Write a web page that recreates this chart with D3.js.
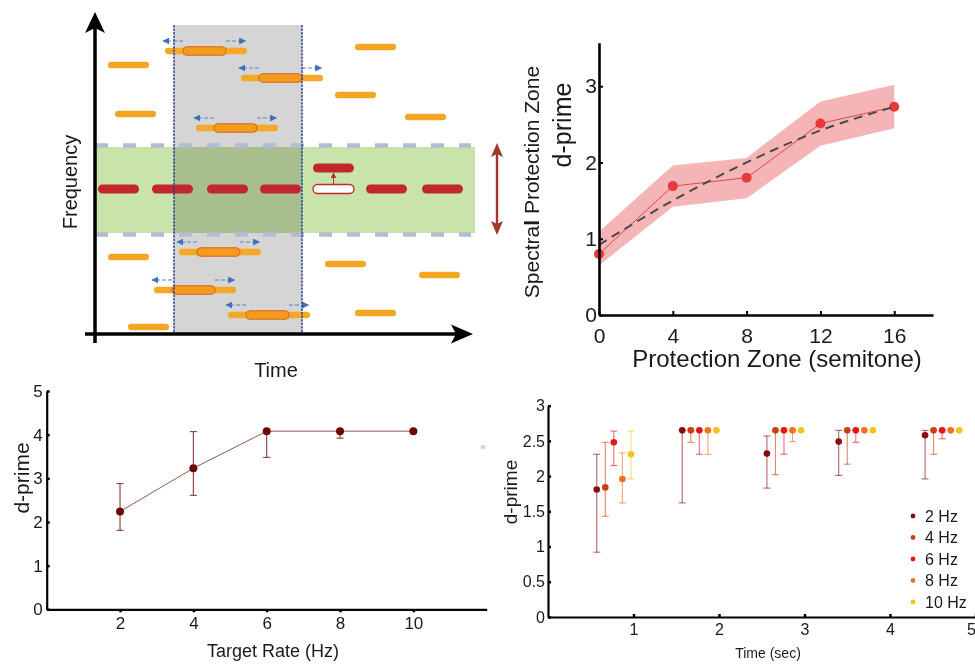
<!DOCTYPE html>
<html><head><meta charset="utf-8">
<script src="https://cdn.jsdelivr.net/npm/d3@7"></script>
<style>
body{margin:0;background:#fff}
svg{display:block}
text{font-family:"Liberation Sans",Arial,Helvetica,sans-serif;fill:#1a1a1a}
</style>
</head><body>
<svg id="c" width="975" height="664"></svg>
<script>
// ---------------- Panel A: schematic (time units / frequency units) ----------------
const distractorOnsets = [1.3, 2.0, 26.0, 24.0, 31.0, 1.3, 3.3, 23.0, 32.4, 26.0];
const distractorFreqs  = [26.9, 22.0, 28.7, 23.9, 21.7, 7.7, 0.7, 7.0, 5.9, 2.1];
const movingOnsets = [8.8, 16.4, 11.9, 10.2, 7.7, 15.1];
const movingFreqs  = [28.3, 25.6, 20.6, 8.2, 4.4, 1.9];
const targetOnsets = [0.3, 5.7, 11.2, 16.5, 21.8, 27.1, 32.7];
const targetFreq = 14.5, deviantFreq = 16.6, deviantIndex = 4;
const toneDur = 4.1, movingDur = 4.3, jitterBefore = 1.8, jitterAfter = 2.1;
const windowTimes = [7.9, 20.7], windowTop = 30.9;
const zoneFreqs = [10.1, 18.7], zoneEdgeFreqs = [9.95, 18.85];
const zoneArrowT = 40.2, zoneArrowFreqs = [9.9, 19.1];

// ---------------- Panel B: protection zone ----------------
const protZones = [0, 4, 8, 12, 16];
const dprimeB   = [0.80, 1.69, 1.80, 2.51, 2.73];
const bandUpper = [1.09, 1.96, 2.06, 2.80, 3.02];
const bandLower = [0.65, 1.42, 1.53, 2.22, 2.45];
const fitB      = [0.92, 1.50, 2.00, 2.42, 2.73];
const xTicksB = [0, 4, 8, 12, 16], yTicksB = [0, 1, 2, 3];

// ---------------- Panel C: target rate ----------------
const rateHz  = [2, 4, 6, 8, 10];
const dprimeC = [2.24, 3.23, 4.08, 4.08, 4.08];
const upperC  = [2.88, 4.07, 4.08, 4.08, 4.08];
const lowerC  = [1.81, 2.61, 3.48, 3.92, 4.08];
const xTicksC = [2, 4, 6, 8, 10], yTicksC = [0, 1, 2, 3, 4, 5];

// ---------------- Panel D: time course per rate ----------------
const rateLabels = ["2 Hz", "4 Hz", "6 Hz", "8 Hz", "10 Hz"];
const rateColors = ["#8b0a0a", "#c8400f", "#ea1414", "#f5701e", "#f7c21c"];
const groupTimes = [0.57, 1.57, 2.56, 3.40, 4.41];
const rateDodge = 0.1;
const dprimeD = [
  [1.81, 2.65, 2.32, 2.49, 2.58],
  [1.84, 2.65, 2.65, 2.65, 2.65],
  [2.48, 2.65, 2.65, 2.65, 2.65],
  [1.96, 2.65, 2.65, 2.65, 2.65],
  [2.31, 2.65, 2.65, 2.65, 2.65]];
const upperD = [
  [2.31, 2.65, 2.57, 2.65, 2.65],
  [2.48, 2.65, 2.65, 2.65, 2.65],
  [2.64, 2.65, 2.65, 2.65, 2.65],
  [2.33, 2.65, 2.65, 2.65, 2.65],
  [2.64, 2.65, 2.65, 2.65, 2.65]];
const lowerD = [
  [0.92, 1.62, 1.83, 2.01, 1.96],
  [1.43, 2.48, 2.02, 2.17, 2.31],
  [2.15, 2.31, 2.31, 2.48, 2.53],
  [1.62, 2.31, 2.49, 2.65, 2.65],
  [1.96, 2.65, 2.65, 2.65, 2.65]];
const xTicksD = [1, 2, 3, 4, 5], yTicksD = [0, 0.5, 1, 1.5, 2, 2.5, 3];

const svg = d3.select("#c");
svg.append("rect").attr("width", 975).attr("height", 664).attr("fill", "#fff");
const defs = svg.append("defs");
function marker(id, color, size) {
  defs.append("marker").attr("id", id).attr("viewBox", "0 0 10 10").attr("refX", 9).attr("refY", 5)
    .attr("markerWidth", size).attr("markerHeight", size).attr("markerUnits", "userSpaceOnUse")
    .attr("orient", "auto").append("path").attr("d", "M0,0 L10,5 L0,10 Z").attr("fill", color);
}
marker("ahBlue", "#3f6fbf", 7);
marker("ahRed", "#a8352c", 6);

// ===== Panel A =====
const xA = d3.scaleLinear().domain([0, 38]).range([95, 475]);
const yA = d3.scaleLinear().domain([0, 32.2]).range([334, 12]);
const gA = svg.append("g");
gA.append("rect").attr("x", xA(0)).attr("y", yA(zoneFreqs[1]))
  .attr("width", xA(38) - xA(0)).attr("height", yA(zoneFreqs[0]) - yA(zoneFreqs[1])).attr("fill", "#c9e4ab");
gA.append("rect").attr("x", xA(windowTimes[0])).attr("y", yA(windowTop))
  .attr("width", xA(windowTimes[1]) - xA(windowTimes[0])).attr("height", yA(0) - yA(windowTop))
  .attr("fill", "#d5d5d5").style("mix-blend-mode", "multiply");
gA.selectAll("line.zoneEdge").data(zoneEdgeFreqs).join("line").attr("class", "zoneEdge")
  .attr("x1", xA(0)).attr("x2", xA(37.6)).attr("y1", d => yA(d)).attr("y2", d => yA(d))
  .attr("stroke", "#b3bdd1").attr("stroke-width", 4.5).attr("stroke-dasharray", "13,15");

// target stream
gA.selectAll("rect.target").data(targetOnsets).join("rect").attr("class", "target")
  .attr("x", d => xA(d)).attr("width", xA(toneDur) - xA(0))
  .attr("y", yA(targetFreq) - 4.5).attr("height", 9).attr("rx", 4.5)
  .attr("fill", (d, i) => i === deviantIndex ? "#fff" : "#c1272d")
  .attr("stroke", (d, i) => i === deviantIndex ? "#c1272d" : "none").attr("stroke-width", 1.3);
const devT = targetOnsets[deviantIndex];
gA.append("rect").attr("x", xA(devT)).attr("width", xA(toneDur) - xA(0))
  .attr("y", yA(deviantFreq) - 4.5).attr("height", 9).attr("rx", 4.5).attr("fill", "#c1272d");
gA.append("line").attr("x1", xA(devT + toneDur / 2)).attr("x2", xA(devT + toneDur / 2))
  .attr("y1", yA(targetFreq) - 5).attr("y2", yA(deviantFreq) + 5)
  .attr("stroke", "#a8352c").attr("stroke-width", 1).attr("marker-end", "url(#ahRed)");

// distractors
gA.selectAll("rect.dist").data(distractorOnsets).join("rect").attr("class", "dist")
  .attr("x", d => xA(d)).attr("width", xA(toneDur) - xA(0))
  .attr("y", (d, i) => yA(distractorFreqs[i]) - 3.3).attr("height", 6.6).attr("rx", 3.3).attr("fill", "#f4a623");

// moving distractors (jittered)
movingOnsets.forEach((c, i) => {
  const f = movingFreqs[i];
  gA.append("rect").attr("x", xA(c - jitterBefore)).attr("width", xA(movingDur + jitterBefore + jitterAfter) - xA(0))
    .attr("y", yA(f) - 3.3).attr("height", 6.6).attr("rx", 3.3).attr("fill", "#f5a726");
  gA.append("rect").attr("x", xA(c)).attr("width", xA(movingDur) - xA(0))
    .attr("y", yA(f) - 4.3).attr("height", 8.6).attr("rx", 4.3).attr("fill", "#f49b1e")
    .attr("stroke", "#d9661c").attr("stroke-width", 1.1);
  gA.append("line").attr("x1", xA(c)).attr("x2", xA(c - 2.0)).attr("y1", yA(f + 1.0)).attr("y2", yA(f + 1.0))
    .attr("stroke", "#5a83c6").attr("stroke-width", 1.2).attr("stroke-dasharray", "4,2").attr("marker-end", "url(#ahBlue)");
  gA.append("line").attr("x1", xA(c + movingDur)).attr("x2", xA(c + movingDur + 1.95)).attr("y1", yA(f + 1.0)).attr("y2", yA(f + 1.0))
    .attr("stroke", "#5a83c6").attr("stroke-width", 1.2).attr("stroke-dasharray", "4,2").attr("marker-end", "url(#ahBlue)");
});

// window edges
gA.selectAll("line.win").data(windowTimes).join("line").attr("class", "win")
  .attr("x1", d => xA(d)).attr("x2", d => xA(d)).attr("y1", yA(windowTop)).attr("y2", yA(0))
  .attr("stroke", "#21399a").attr("stroke-width", 1.4).attr("stroke-dasharray", "2.5,1");

// axes arrows
const ax0 = xA(0), ay0 = yA(0);
gA.append("line").attr("x1", ax0).attr("x2", ax0).attr("y1", yA(-0.9)).attr("y2", yA(31)).attr("stroke", "#000").attr("stroke-width", 3.5);
gA.append("line").attr("x1", xA(-1)).attr("x2", xA(37)).attr("y1", ay0).attr("y2", ay0).attr("stroke", "#000").attr("stroke-width", 3.5);
const tipY = yA(32.2);
gA.append("path").attr("d", `M${ax0},${tipY} L${ax0 + 10},${tipY + 21} L${ax0},${tipY + 16} L${ax0 - 10},${tipY + 21} Z`).attr("fill", "#000");
const tipX = xA(37.8);
gA.append("path").attr("d", `M${tipX},${ay0} L${tipX - 22},${ay0 - 9.5} L${tipX - 17},${ay0} L${tipX - 22},${ay0 + 9.5} Z`).attr("fill", "#000");

// protection zone double arrow
const zx = xA(zoneArrowT), zy1 = yA(zoneArrowFreqs[1]), zy0 = yA(zoneArrowFreqs[0]);
gA.append("line").attr("x1", zx).attr("x2", zx).attr("y1", zy1 + 8).attr("y2", zy0 - 8).attr("stroke", "#a4372b").attr("stroke-width", 2.4);
gA.append("path").attr("d", `M${zx},${zy1} L${zx + 6},${zy1 + 14} L${zx},${zy1 + 11} L${zx - 6},${zy1 + 14} Z`).attr("fill", "#a4372b");
gA.append("path").attr("d", `M${zx},${zy0} L${zx + 6},${zy0 - 14} L${zx},${zy0 - 11} L${zx - 6},${zy0 - 14} Z`).attr("fill", "#a4372b");

gA.append("text").attr("transform", "translate(77,182) rotate(-90)").attr("text-anchor", "middle")
  .style("font-size", "20px").text("Frequency");
gA.append("text").attr("x", 276).attr("y", 377).attr("text-anchor", "middle").style("font-size", "20px").text("Time");

// ===== Panel B =====
const xB = d3.scaleLinear().domain([0, 18.1]).range([599, 933]);
const yB = d3.scaleLinear().domain([0, 3.57]).range([315, 42.7]);
const gB = svg.append("g");
const ptsB = protZones.map((z, i) => ({ z, v: dprimeB[i], lo: bandLower[i], hi: bandUpper[i], fit: fitB[i] }));
gB.append("path").datum(ptsB).attr("d", d3.area().x(d => xB(d.z)).y0(d => yB(d.lo)).y1(d => yB(d.hi)))
  .attr("fill", "#f3a2a5").attr("fill-opacity", 0.8);
gB.append("path").datum(ptsB).attr("d", d3.line().x(d => xB(d.z)).y(d => yB(d.v)))
  .attr("fill", "none").attr("stroke", "#e0474b").attr("stroke-width", 1);
gB.selectAll("circle").data(ptsB).join("circle").attr("cx", d => xB(d.z)).attr("cy", d => yB(d.v)).attr("r", 5).attr("fill", "#e5393d");
gB.append("path").datum(ptsB).attr("d", d3.line().curve(d3.curveMonotoneX).x(d => xB(d.z)).y(d => yB(d.fit)))
  .attr("fill", "none").attr("stroke", "#4a4a4a").attr("stroke-width", 2).attr("stroke-dasharray", "9,6");
const axBx = gB.append("g").attr("transform", `translate(0,${yB(0)})`)
  .call(d3.axisBottom(xB).tickValues(xTicksB).tickSizeInner(-4).tickSizeOuter(0).tickPadding(13).tickFormat(d3.format("d")));
const axBy = gB.append("g").attr("transform", `translate(${xB(0)},0)`)
  .call(d3.axisLeft(yB).tickValues(yTicksB).tickSizeInner(-4).tickSizeOuter(0).tickPadding(2).tickFormat(d3.format("d")));
[axBx, axBy].forEach(a => {
  a.select(".domain").attr("stroke", "#000").attr("stroke-width", 2.6);
  a.selectAll(".tick line").attr("stroke", "#000").attr("stroke-width", 2);
  a.selectAll(".tick text").style("font-size", "21px").attr("fill", "#1a1a1a");
});
gB.append("text").attr("transform", "translate(571,125) rotate(-90)").attr("text-anchor", "middle")
  .style("font-size", "25px").text("d-prime");
const sp = gB.append("text").attr("transform", "translate(539,182) rotate(-90)").attr("text-anchor", "middle").style("font-size", "21px");
sp.append("tspan").text("Spectra");
sp.append("tspan").style("font-weight", "bold").text("l");
sp.append("tspan").text(" Protection Zone");
gB.append("text").attr("x", 777).attr("y", 367).attr("text-anchor", "middle").style("font-size", "24px").text("Protection Zone (semitone)");

// ===== Panel C =====
const xC = d3.scaleLinear().domain([0, 12]).range([46.7, 486.7]);
const yC = d3.scaleLinear().domain([0, 5]).range([609.3, 391]);
const gC = svg.append("g");
const ptsC = rateHz.map((r, i) => ({ r, v: dprimeC[i], hi: upperC[i], lo: lowerC[i] }));
gC.append("path").datum(ptsC).attr("d", d3.line().x(d => xC(d.r)).y(d => yC(d.v)))
  .attr("fill", "none").attr("stroke", "#9c5555").attr("stroke-width", 1);
const ebC = gC.selectAll("g.eb").data(ptsC.filter(d => d.hi > d.lo)).join("g").attr("class", "eb")
  .attr("stroke", "#8e3b3b").attr("stroke-width", 1.1);
ebC.append("line").attr("x1", d => xC(d.r)).attr("x2", d => xC(d.r)).attr("y1", d => yC(d.hi)).attr("y2", d => yC(d.lo));
ebC.append("line").attr("x1", d => xC(d.r) - 3.5).attr("x2", d => xC(d.r) + 3.5).attr("y1", d => yC(d.hi)).attr("y2", d => yC(d.hi));
ebC.append("line").attr("x1", d => xC(d.r) - 3.5).attr("x2", d => xC(d.r) + 3.5).attr("y1", d => yC(d.lo)).attr("y2", d => yC(d.lo));
gC.selectAll("circle").data(ptsC).join("circle").attr("cx", d => xC(d.r)).attr("cy", d => yC(d.v)).attr("r", 4).attr("fill", "#6e0808");
const axCx = gC.append("g").attr("transform", `translate(0,${yC(0)})`)
  .call(d3.axisBottom(xC).tickValues(xTicksC).tickSizeInner(3).tickSizeOuter(0).tickPadding(5).tickFormat(d3.format("d")));
const axCy = gC.append("g").attr("transform", `translate(${xC(0)},0)`)
  .call(d3.axisLeft(yC).tickValues(yTicksC).tickSizeInner(-3).tickSizeOuter(0).tickPadding(4).tickFormat(d3.format("d")));
[axCx, axCy].forEach(a => {
  a.select(".domain").attr("stroke", "#000").attr("stroke-width", 2.2);
  a.selectAll(".tick line").attr("stroke", "#000").attr("stroke-width", 2.5);
  a.selectAll(".tick text").style("font-size", "17px").attr("fill", "#1a1a1a");
});
gC.append("text").attr("transform", "translate(29,478) rotate(-90)").attr("text-anchor", "middle")
  .style("font-size", "21px").text("d-prime");
gC.append("text").attr("x", 273).attr("y", 657).attr("text-anchor", "middle").style("font-size", "18px").text("Target Rate (Hz)");
gC.append("circle").attr("cx", 483).attr("cy", 447).attr("r", 2.5).attr("fill", "#d8d8d8");

// ===== Panel D =====
const xD = d3.scaleLinear().domain([0, 5]).range([548, 975.5]);
const yD = d3.scaleLinear().domain([0, 3]).range([617, 405.7]);
const gD = svg.append("g");
rateLabels.forEach((lab, k) => {
  const pts = groupTimes.map((t, j) => ({ t: t + k * rateDodge, v: dprimeD[k][j], hi: upperD[k][j], lo: lowerD[k][j] }));
  const eb = gD.append("g").attr("stroke", rateColors[k]).attr("stroke-opacity", 0.62).attr("stroke-width", 1.1);
  pts.filter(d => d.hi > d.lo).forEach(d => {
    eb.append("line").attr("x1", xD(d.t)).attr("x2", xD(d.t)).attr("y1", yD(d.hi)).attr("y2", yD(d.lo));
    eb.append("line").attr("x1", xD(d.t) - 3.5).attr("x2", xD(d.t) + 3.5).attr("y1", yD(d.hi)).attr("y2", yD(d.hi));
    eb.append("line").attr("x1", xD(d.t) - 3.5).attr("x2", xD(d.t) + 3.5).attr("y1", yD(d.lo)).attr("y2", yD(d.lo));
  });
});
rateLabels.forEach((lab, k) => {
  gD.selectAll(null).data(groupTimes.map((t, j) => ({ t: t + k * rateDodge, v: dprimeD[k][j] }))).join("circle")
    .attr("cx", d => xD(d.t)).attr("cy", d => yD(d.v)).attr("r", 3.3).attr("fill", rateColors[k]);
});
const axDx = gD.append("g").attr("transform", `translate(0,${yD(0)})`)
  .call(d3.axisBottom(xD).tickValues(xTicksD).tickSizeInner(-3).tickSizeOuter(0).tickPadding(6.5).tickFormat(d3.format("d")));
const axDy = gD.append("g").attr("transform", `translate(${xD(0)},0)`)
  .call(d3.axisLeft(yD).tickValues(yTicksD).tickSizeInner(-3).tickSizeOuter(0).tickPadding(3).tickFormat(d3.format("~g")));
[axDx, axDy].forEach(a => {
  a.select(".domain").attr("stroke", "#000").attr("stroke-width", 2.2);
  a.selectAll(".tick line").attr("stroke", "#000").attr("stroke-width", 2.5);
  a.selectAll(".tick text").style("font-size", "16px").attr("fill", "#1a1a1a");
});
// keep the last tick label inside the page edge
axDx.selectAll(".tick text").filter(d => d === 5).attr("text-anchor", "end");
gD.append("text").attr("transform", "translate(517,492) rotate(-90)").attr("text-anchor", "middle")
  .style("font-size", "19px").text("d-prime");
gD.append("text").attr("x", 768).attr("y", 658).attr("text-anchor", "middle").style("font-size", "14px").text("Time (sec)");
const leg = gD.selectAll("g.leg").data(rateLabels).join("g").attr("class", "leg")
  .attr("transform", (d, i) => `translate(913,${516 + i * 21.5})`);
leg.append("circle").attr("r", 2.4).attr("fill", (d, i) => rateColors[i]);
leg.append("text").attr("x", 12).attr("dy", "0.35em").style("font-size", "16px").text(d => d);
</script>
</body></html>
